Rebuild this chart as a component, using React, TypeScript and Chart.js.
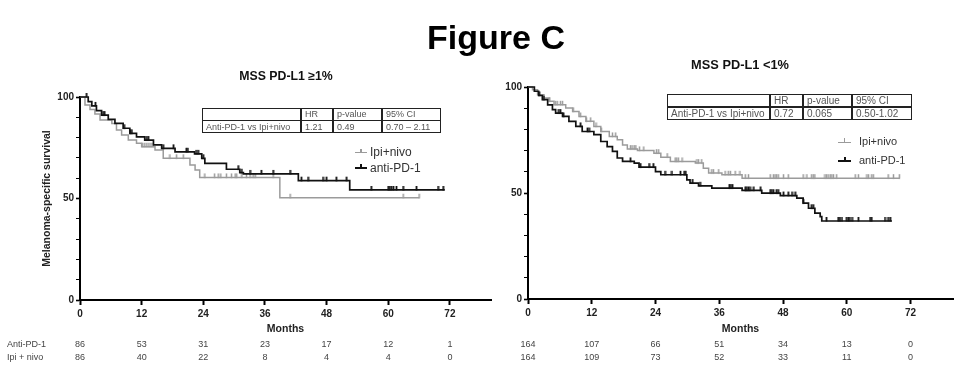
import React, { useEffect, useRef } from 'react';
import { Chart, registerables } from 'chart.js';

Chart.register(...registerables);

const FONT = "'Liberation Sans', Arial, Helvetica, sans-serif";

// ---------- axis ticks ----------
const xTickValues = [0, 12, 24, 36, 48, 60, 72];
const yTickValues = [0, 10, 20, 30, 40, 50, 60, 70, 80, 90, 100];
const yLabelValues = [0, 50, 100];

// ---------- number at risk ----------
const riskMonths = [0, 12, 24, 36, 48, 60, 72];
const riskLabels = ['Anti-PD-1', 'Ipi + nivo'];
const leftRiskAnti = [86, 53, 31, 23, 17, 12, 1];
const leftRiskIpi = [86, 40, 22, 8, 4, 4, 0];
const rightRiskAnti = [164, 107, 66, 51, 34, 13, 0];
const rightRiskIpi = [164, 109, 73, 52, 33, 11, 0];

// ---------- MSS PD-L1 >=1% ----------
const leftAntiT = [0, 1.6, 2.3, 3.2, 4.2, 5.5, 6.8, 8.4, 9.7, 11, 12.6, 14.3, 15.9, 18.5, 22.3, 23.7, 24.3, 28.5, 31.1, 31.8, 42.5, 52.5, 71];
const leftAntiS = [100, 97.7, 95.6, 93.3, 91.1, 89, 87, 84.6, 82.1, 80.4, 78.8, 76.4, 74.7, 73, 72, 69.8, 67.3, 64.4, 62.7, 62.1, 58.8, 54.2, 54.2];
const leftAntiCensor = [1.3, 3.0, 4.5, 4.8, 8.6, 9.8, 10.1, 13.0, 13.3, 16.2, 18.2, 20.7, 21.0, 22.6, 23.0, 24.0, 30.8, 31.5, 33.1, 35.3, 37.6, 40.9, 43.1, 44.4, 47.3, 48.0, 49.9, 51.9, 56.7, 60.0, 60.3, 60.6, 61.0, 61.6, 62.9, 65.5, 69.7, 70.7];

const leftIpiT = [0, 0.97, 1.95, 2.9, 3.9, 6.2, 7.1, 8.1, 9.4, 11, 12, 14.6, 16.2, 21.4, 22.4, 23.3, 38.9, 66.1];
const leftIpiS = [100, 96, 93.9, 91.6, 88.7, 87, 83.7, 81.3, 78.8, 77.2, 75.5, 73.9, 69.8, 66.5, 64, 60.4, 50.4, 50.4];
const leftIpiCensor = [12.2, 12.6, 13.0, 13.4, 13.8, 14.2, 17.5, 18.8, 20.1, 24.3, 26.2, 26.9, 27.4, 28.5, 29.5, 30.2, 30.5, 31.5, 32.4, 33.1, 33.7, 34.1, 37.6, 40.9, 62.9, 66.0];

// ---------- MSS PD-L1 <1% ----------
const rightAntiT = [0, 1.2, 2.0, 2.7, 3.7, 4.6, 5.2, 6.5, 7.7, 9, 10.2, 12.4, 13.7, 14.9, 15.9, 16.8, 17.8, 20, 20.9, 24, 25, 29.9, 30.5, 32.1, 34.6, 40.3, 44, 47.5, 50.6, 51.8, 52.8, 54, 55, 55.3, 68.5];
const rightAntiS = [100, 98, 96, 94, 91.6, 89.3, 87.7, 86.1, 83.8, 81.4, 79, 77.5, 74.3, 71.9, 69.6, 66.5, 64.9, 64.1, 62.2, 60.1, 58.6, 56.2, 54.7, 53.4, 52.3, 51.2, 49.9, 48.8, 47.6, 45.2, 42.8, 40.5, 38.9, 36.8, 36.8];
const rightAntiCensor = [2.1, 3.0, 5.8, 6.1, 6.7, 9.9, 11.2, 11.5, 19.3, 21.2, 22.8, 23.6, 25.8, 27.1, 28.7, 29.4, 29.7, 31.0, 32.4, 37.9, 38.2, 38.5, 40.9, 41.2, 41.5, 41.8, 42.5, 43.8, 45.6, 45.9, 46.2, 46.8, 47.1, 48.1, 49.0, 49.7, 50.3, 51.8, 53.4, 53.7, 56.2, 58.4, 58.7, 59.1, 60.0, 60.3, 60.6, 61.0, 62.2, 64.4, 64.7, 67.2, 67.8, 68.2];

const rightIpiT = [0, 0.85, 1.8, 3, 4, 4.9, 7.1, 8.4, 9.6, 10.9, 12.4, 13.7, 15.3, 16.8, 17.8, 18.7, 20.6, 23.7, 25, 26.8, 31.5, 33, 34, 36.5, 40.3, 70];
const rightIpiS = [100, 98.7, 96.4, 94.8, 93.3, 91.6, 90.1, 88.5, 86.1, 83.8, 81.4, 79, 76.7, 75.1, 72.7, 70.7, 70.1, 68.8, 66.9, 64.9, 64.1, 61.7, 59.4, 58.6, 57, 57];
const rightIpiCensor = [4.1, 5.2, 5.5, 6.1, 6.5, 8.5, 9.9, 11.0, 11.8, 12.8, 13.8, 15.9, 16.5, 19.3, 19.6, 20.0, 20.3, 21.0, 21.8, 24.2, 24.6, 26.2, 27.7, 28.0, 28.3, 29.0, 31.8, 32.1, 32.7, 34.6, 34.9, 35.9, 37.1, 37.7, 38.1, 39.0, 39.9, 40.9, 41.5, 45.6, 46.2, 46.5, 46.8, 47.1, 48.1, 49.0, 51.8, 52.5, 53.4, 53.7, 54.0, 55.9, 56.2, 56.5, 56.9, 57.2, 57.5, 58.1, 61.6, 62.2, 63.8, 64.1, 64.7, 65.0, 67.8, 68.8, 69.9];

// ---------- HR tables ----------
const tableHeader = ['', 'HR', 'p-value', '95% CI'];
const leftTableRow = ['Anti-PD-1 vs Ipi+nivo', '1.21', '0.49', '0.70 – 2.11'];
const rightTableRow = ['Anti-PD-1 vs Ipi+nivo', '0.72', '0.065', '0.50-1.02'];

const GREY = '#9b9b9b';
const BLACK = '#111111';

function stepAt(T: number[], S: number[], t: number): number {
  let v = S[0];
  for (let i = 0; i < T.length; i++) {
    if (T[i] <= t) v = S[i];
  }
  return v;
}

function makeTick(color: string, w: number): HTMLCanvasElement {
  const c = document.createElement('canvas');
  c.width = 3;
  c.height = 10;
  const g = c.getContext('2d')!;
  g.fillStyle = color;
  g.fillRect((3 - w) / 2, 1, w, 4.5);
  return c;
}

type Cfg = {
  antiT: number[]; antiS: number[]; antiC: number[];
  ipiT: number[]; ipiS: number[]; ipiC: number[];
  padding: { left: number; right: number; top: number; bottom: number };
  yWidth: number; xHeight: number; yTitle: string | null;
  riskAnti: number[]; riskIpi: number[]; showRiskLabels: boolean;
};

function buildChart(canvas: HTMLCanvasElement, cfg: Cfg) {
  const blackTick = makeTick(BLACK, 1.8);
  const greyTick = makeTick(GREY, 1.5);
  const riskPlugin = {
    id: 'riskTable',
    afterDraw(chart: any) {
      const ctx = chart.ctx as CanvasRenderingContext2D;
      const xs = chart.scales.x;
      ctx.save();
      ctx.font = `9px ${FONT}`;
      ctx.fillStyle = '#444';
      ctx.textBaseline = 'middle';
      const rows = [cfg.riskAnti, cfg.riskIpi];
      const rowY = [345, 357.5];
      rows.forEach((row, r) => {
        ctx.textAlign = 'center';
        row.forEach((n, i) => {
          ctx.fillText(String(n), xs.getPixelForValue(riskMonths[i]), rowY[r]);
        });
        if (cfg.showRiskLabels) {
          ctx.textAlign = 'left';
          ctx.fillText(riskLabels[r], 7, rowY[r]);
        }
      });
      ctx.restore();
    },
  };

  return new Chart(canvas, {
    type: 'line',
    data: {
      datasets: [
        {
          data: cfg.antiT.map((t, i) => ({ x: t, y: cfg.antiS[i] })),
          borderColor: BLACK, borderWidth: 1.7, stepped: 'before', pointRadius: 0, fill: false, clip: false as any,
        },
        {
          data: cfg.antiC.map((t) => ({ x: t, y: stepAt(cfg.antiT, cfg.antiS, t) })),
          showLine: false, pointStyle: blackTick as any, pointRadius: 3, clip: false as any,
        },
        {
          data: cfg.ipiT.map((t, i) => ({ x: t, y: cfg.ipiS[i] })),
          borderColor: GREY, borderWidth: 1.5, stepped: 'before', pointRadius: 0, fill: false, clip: false as any,
        },
        {
          data: cfg.ipiC.map((t) => ({ x: t, y: stepAt(cfg.ipiT, cfg.ipiS, t) })),
          showLine: false, pointStyle: greyTick as any, pointRadius: 3, clip: false as any,
        },
      ] as any,
    },
    options: {
      animation: false,
      responsive: false,
      events: [],
      layout: { padding: cfg.padding },
      plugins: { legend: { display: false }, title: { display: false }, tooltip: { enabled: false } },
      scales: {
        x: {
          type: 'linear', min: 0, max: 80,
          afterFit: (s: any) => { s.height = cfg.xHeight; },
          afterBuildTicks: (s: any) => { s.ticks = xTickValues.map((v) => ({ value: v })); },
          ticks: { font: { family: FONT, size: 10, weight: 'bold' }, color: '#222', padding: 3, maxRotation: 0, autoSkip: false },
          grid: { display: true, drawOnChartArea: false, drawTicks: true, tickLength: 5, tickWidth: 2, tickColor: '#000' },
          border: { display: true, color: '#000', width: 2 },
          title: { display: true, text: 'Months', font: { family: FONT, size: 10.5, weight: 'bold' }, color: '#222', padding: { top: 0, bottom: 37 } },
        },
        y: {
          type: 'linear', min: 0, max: 100,
          afterFit: (s: any) => { s.width = cfg.yWidth; },
          afterBuildTicks: (s: any) => { s.ticks = yTickValues.map((v) => ({ value: v })); },
          ticks: {
            font: { family: FONT, size: 10, weight: 'bold' }, color: '#222', padding: 2, autoSkip: false,
            callback: (v: any) => (yLabelValues.includes(Number(v)) ? String(v) : ''),
          },
          grid: {
            display: true, drawOnChartArea: false, drawTicks: true, tickLength: 4, tickColor: '#000',
            tickWidth: (c: any) => (c.tick && yLabelValues.includes(c.tick.value) ? 1.6 : 1),
          },
          border: { display: true, color: '#000', width: 2 },
          title: {
            display: !!cfg.yTitle, text: cfg.yTitle || '',
            font: { family: FONT, size: 10.5, weight: 'bold' }, color: '#222', padding: { top: 40.7, bottom: 0 },
          },
        },
      },
    } as any,
    plugins: [riskPlugin],
  });
}

function Txt(props: { text: string; x: number; cy?: number; baseline?: number; size: number; bold?: boolean; color?: string; center?: boolean }) {
  const { text, x, size, bold, color, center } = props;
  const top = props.baseline !== undefined ? props.baseline - 0.8465 * size : (props.cy as number) - 0.49 * size;
  return (
    <div
      style={{
        position: 'absolute', left: x, top, fontSize: size, lineHeight: `${size}px`, whiteSpace: 'nowrap',
        fontWeight: bold ? 'bold' : 'normal', color: color || '#000', fontFamily: FONT,
        transform: center ? 'translateX(-50%)' : undefined,
      }}
    >
      {text}
    </div>
  );
}

function HRTable(props: { x: number; y: number; cols: number[]; rowH: number; size: number; rows: string[][] }) {
  const { x, y, cols, rowH, size, rows } = props;
  const W = cols.reduce((a, b) => a + b, 0);
  const lefts: number[] = [];
  cols.reduce((acc, w) => { lefts.push(acc); return acc + w; }, 0);
  const lw = 1.3;
  return (
    <div style={{ position: 'absolute', left: x, top: y, width: W, height: rowH * rows.length }}>
      <div style={{ position: 'absolute', left: 0, top: 0, width: W, height: rowH * rows.length, border: `${lw}px solid #222`, boxSizing: 'border-box' }} />
      {lefts.slice(1).map((l, i) => (
        <div key={'v' + i} style={{ position: 'absolute', left: l - lw / 2, top: 0, width: lw, height: rowH * rows.length, background: '#222' }} />
      ))}
      {rows.slice(1).map((_, i) => (
        <div key={'h' + i} style={{ position: 'absolute', left: 0, top: rowH * (i + 1) - lw / 2, width: W, height: lw, background: '#222' }} />
      ))}
      {rows.map((row, r) =>
        row.map((cell, c) => (
          <div
            key={r + '-' + c}
            style={{
              position: 'absolute', left: lefts[c] + 4, top: r * rowH, height: rowH, lineHeight: `${rowH}px`,
              fontSize: size, color: '#555', whiteSpace: 'nowrap', fontFamily: FONT,
            }}
          >
            {cell}
          </div>
        ))
      )}
    </div>
  );
}

function LegendItem(props: { x1: number; x2: number; y: number; color: string; lw: number; textX: number; text: string; size: number }) {
  const { x1, x2, y, color, lw, textX, text, size } = props;
  const mid = (x1 + x2) / 2;
  return (
    <>
      <div style={{ position: 'absolute', left: x1, top: y - lw / 2, width: x2 - x1, height: lw, background: color }} />
      <div style={{ position: 'absolute', left: mid - lw / 2, top: y - 4, width: lw, height: 4, background: color }} />
      <Txt text={text} x={textX} cy={y - 0.5} size={size} color="#333" />
    </>
  );
}

export default function App() {
  const leftRef = useRef<HTMLCanvasElement>(null);
  const rightRef = useRef<HTMLCanvasElement>(null);

  useEffect(() => {
    const left = buildChart(leftRef.current!, {
      antiT: leftAntiT, antiS: leftAntiS, antiC: leftAntiCensor,
      ipiT: leftIpiT, ipiS: leftIpiS, ipiC: leftIpiCensor,
      padding: { left: 0, right: 468, top: 97, bottom: 0 },
      yWidth: 80, xHeight: 72, yTitle: 'Melanoma-specific survival',
      riskAnti: leftRiskAnti, riskIpi: leftRiskIpi, showRiskLabels: true,
    });
    const right = buildChart(rightRef.current!, {
      antiT: rightAntiT, antiS: rightAntiS, antiC: rightAntiCensor,
      ipiT: rightIpiT, ipiS: rightIpiS, ipiC: rightIpiCensor,
      padding: { left: 495, right: 6, top: 87, bottom: 0 },
      yWidth: 33, xHeight: 73, yTitle: null,
      riskAnti: rightRiskAnti, riskIpi: rightRiskIpi, showRiskLabels: false,
    });
    return () => {
      left.destroy();
      right.destroy();
    };
  }, []);

  return (
    <div style={{ position: 'absolute', left: 0, top: 0, width: 959, height: 372, background: '#fff', overflow: 'hidden', fontFamily: FONT }}>
      <canvas ref={leftRef} width={959} height={372} style={{ position: 'absolute', left: 0, top: 0, width: 959, height: 372 }} />
      <canvas ref={rightRef} width={959} height={372} style={{ position: 'absolute', left: 0, top: 0, width: 959, height: 372 }} />

      <Txt text="Figure C" x={496} baseline={48.3} size={34} bold center />
      <Txt text="MSS PD-L1 ≥1%" x={286} baseline={80} size={12.3} bold center color="#111" />
      <Txt text="MSS PD-L1 <1%" x={740} baseline={70} size={12.8} bold center color="#111" />

      <HRTable x={202} y={108} cols={[99, 32, 49, 59]} rowH={12.5} size={9} rows={[tableHeader, leftTableRow]} />
      <HRTable x={667} y={94} cols={[103, 33, 49, 60]} rowH={13} size={10} rows={[tableHeader, rightTableRow]} />

      <LegendItem x1={355} x2={367} y={152.5} color={GREY} lw={1.5} textX={370} text="Ipi+nivo" size={12} />
      <LegendItem x1={355} x2={367} y={168} color={BLACK} lw={2} textX={370} text="anti-PD-1" size={12} />
      <LegendItem x1={838} x2={851} y={142.3} color={GREY} lw={1.5} textX={859} text="Ipi+nivo" size={11} />
      <LegendItem x1={838} x2={851} y={161} color={BLACK} lw={2} textX={859} text="anti-PD-1" size={11} />
    </div>
  );
}
